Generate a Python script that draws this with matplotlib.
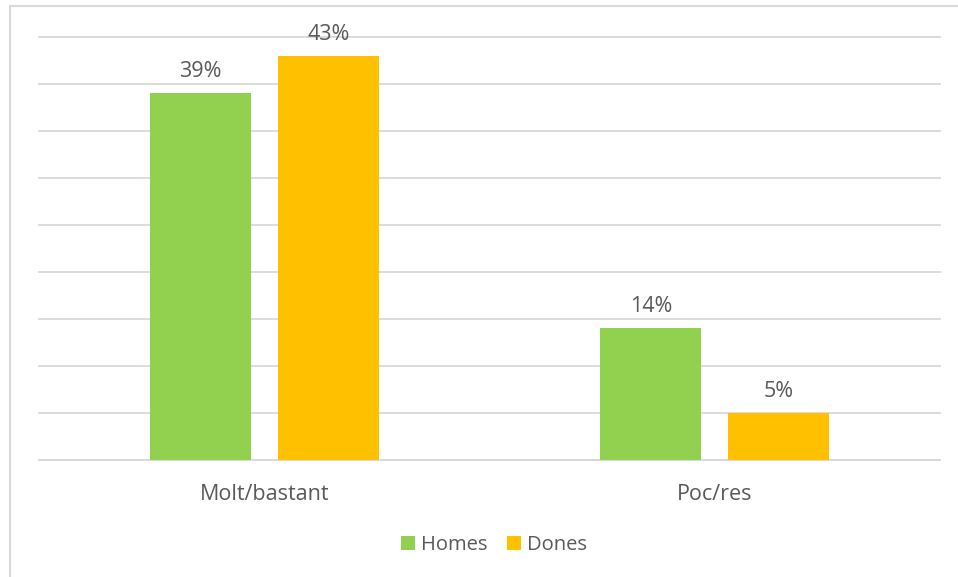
import numpy as np
import matplotlib.pyplot as plt
from matplotlib.patches import Rectangle

categories = ["Molt/bastant", "Poc/res"]
homes = [39, 14]
dones = [43, 5]
series_names = ["Homes", "Dones"]

GREEN = "#92D050"
ORANGE = "#FFC000"
TXT = "#595959"
GRID = "#D9D9D9"

plt.rcParams["font.family"] = ["Open Sans", "DejaVu Sans"]

fig = plt.figure(figsize=(9.58, 5.77), dpi=100)
ax = fig.add_axes([39 / 958, 1 - 460 / 577, 901 / 958, 423 / 577])

x = np.arange(len(categories))
w = 0.224
off = 0.142
b1 = ax.bar(x - off, homes, w, color=GREEN, label=series_names[0], zorder=3)
b2 = ax.bar(x + off, dones, w, color=ORANGE, label=series_names[1], zorder=3)

for bars, vals in ((b1, homes), (b2, dones)):
    for r, v in zip(bars, vals):
        ax.annotate(f"{v}%", (r.get_x() + r.get_width() / 2, v),
                    xytext=(0, 11.5), textcoords="offset points",
                    ha="center", va="baseline", fontsize=15.5, color=TXT)

ax.set_xlim(-0.5, 1.5)
ax.set_ylim(0, 45)
ax.set_yticks(np.arange(0, 46, 5))
ax.yaxis.grid(True, color=GRID, linewidth=1.3, zorder=0)
for gl in ax.get_ygridlines():
    gl.set_clip_on(False)
ax.tick_params(axis="y", left=False, labelleft=False)
ax.set_xticks(x)
ax.set_xticklabels(categories, fontsize=15.5, color=TXT)
ax.tick_params(axis="x", length=0, pad=17)
for s in ("top", "right", "left"):
    ax.spines[s].set_visible(False)
ax.spines["bottom"].set_color(GRID)
ax.spines["bottom"].set_linewidth(1.3)

fig.legend(loc="center", bbox_to_anchor=(494 / 958, 1 - 545 / 577), ncol=2,
           frameon=False, fontsize=14.5, labelcolor=TXT, handlelength=0.7,
           handleheight=0.7, handletextpad=0.3, columnspacing=1.0)

# outer chart border (only left/top visible in the crop)
fig.patches.append(Rectangle((9.5 / 958, -0.1), 1.2, 1.1 - 6.5 / 577,
                             transform=fig.transFigure, fill=False,
                             edgecolor=GRID, linewidth=1.5))

fig.savefig("out.png", dpi=100)
